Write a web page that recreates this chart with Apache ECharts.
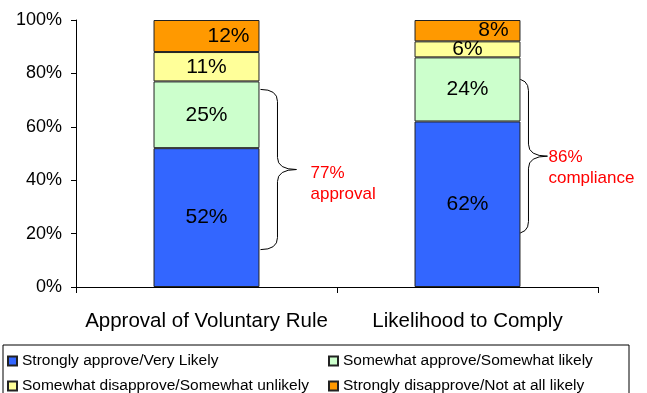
<!DOCTYPE html>
<html>
<head>
<meta charset="utf-8">
<script src="https://cdn.jsdelivr.net/npm/echarts@6/dist/echarts.min.js"></script>
<style>
  html, body { margin: 0; padding: 0; background: #fff; }
  #chart { width: 647px; height: 393px; }
</style>
</head>
<body>
<div id="chart"></div>
<script>
// Survey results: share of responses per answer, stacked to 100%
const categories = ['Approval of Voluntary Rule', 'Likelihood to Comply'];
const seriesNames = [
  'Strongly approve/Very Likely',
  'Somewhat approve/Somewhat likely',
  'Somewhat disapprove/Somewhat unlikely',
  'Strongly disapprove/Not at all likely'
];
const stronglyApprove = [52, 62];
const somewhatApprove = [25, 24];
const somewhatDisapprove = [11, 6];
const stronglyDisapprove = [12, 8];

// Range (in %) covered by the curly bracket next to each bar
const bracketSpans = [[14, 74], [20, 78]];
const bracketWords = ['approval', 'compliance'];

const FONT = '"Liberation Sans", Arial, sans-serif';
const colors = ['#3366FF', '#CCFFCC', '#FFFF99', '#FF9900'];
const values = [stronglyApprove, somewhatApprove, somewhatDisapprove, stronglyDisapprove];

// the top segment's labels sit to the right of centre
const topLabelShift = [22, 26];

const chart = echarts.init(document.getElementById('chart'), null, { renderer: 'canvas' });

const series = seriesNames.map((name, i) => ({
  name,
  type: 'bar',
  stack: 'total',
  barWidth: '40.6%',
  itemStyle: { color: colors[i], borderColor: '#222', borderWidth: 1 },
  label: {
    show: true,
    position: 'inside',
    color: '#000',
    fontSize: 21,
    fontFamily: FONT,
    formatter: p => p.value + '%'
  },
  data: values[i].map((v, j) => i === 3
    ? { value: v, label: { offset: [topLabelShift[j], 0] } }
    : v)
}));

// legend laid out in two columns, two rows
const legendSlots = [[7, 353], [328, 353], [7, 378], [328, 378]];
const legendOrder = [0, 1, 2, 3];
const legends = legendOrder.map((si, k) => ({
  left: legendSlots[k][0],
  top: legendSlots[k][1],
  padding: 0,
  icon: 'rect',
  itemWidth: 9,
  itemHeight: 9,
  itemGap: 5,
  textStyle: { fontSize: 15.5, fontFamily: FONT, color: '#000' },
  selectedMode: false,
  data: [seriesNames[si]]
}));

chart.setOption({
  animation: false,
  grid: { left: 76, right: 49, top: 20, bottom: 106 },
  xAxis: {
    type: 'category',
    data: categories,
    axisLine: { lineStyle: { color: '#000', width: 1 } },
    axisTick: { show: true, length: 6, lineStyle: { color: '#000' } },
    axisLabel: { color: '#000', fontSize: 20.5, fontFamily: FONT, margin: 24, interval: 0 }
  },
  yAxis: {
    type: 'value',
    min: 0,
    max: 100,
    interval: 20,
    axisLine: { show: true, lineStyle: { color: '#000', width: 1 } },
    axisTick: { show: true, length: 5, lineStyle: { color: '#000' } },
    splitLine: { show: false },
    axisLabel: { color: '#000', fontSize: 18, fontFamily: FONT, margin: 14, formatter: '{value}%' }
  },
  legend: legends,
  series
});

// Curly brackets and totals, placed with the chart's own scales
function drawBrackets() {
  const graphics = [{
    type: 'rect',
    shape: { x: 3, y: 345, width: 626, height: 60 },
    style: { fill: 'none', stroke: '#000', lineWidth: 1 },
    silent: true
  }];
  const band = chart.convertToPixel({ xAxisIndex: 0 }, 1) - chart.convertToPixel({ xAxisIndex: 0 }, 0);
  const barHalf = band * 0.406 / 2;
  const startDx = [1, -6];
  const armW = [17, 14];
  const tipW = [36, 33];
  const textDx = [14, 1];
  const textDy = [14, 12];
  const stroke = { fill: 'none', stroke: '#000', lineWidth: 1 };
  const curve = (x1, y1, cx, cy, x2, y2) => ({
    type: 'bezierCurve',
    shape: { x1, y1, x2, y2, cpx1: cx, cpy1: cy },
    style: stroke,
    silent: true
  });
  const line = (x1, y1, x2, y2) => ({
    type: 'line',
    shape: { x1, y1, x2, y2 },
    style: stroke,
    silent: true
  });
  bracketSpans.forEach((span, j) => {
    const cx = chart.convertToPixel({ xAxisIndex: 0 }, j);
    const x0 = cx + barHalf + startDx[j];
    const xv = x0 + armW[j];
    const xt = x0 + tipW[j];
    const yTop = chart.convertToPixel({ yAxisIndex: 0 }, span[1]);
    const yBot = chart.convertToPixel({ yAxisIndex: 0 }, span[0]);
    const yMid = (yTop + yBot) / 2;
    const r = 12;
    graphics.push(
      curve(x0, yTop, xv, yTop, xv, yTop + r),
      line(xv, yTop + r, xv, yMid - r),
      curve(xv, yMid - r, xv, yMid, xt, yMid),
      curve(xt, yMid, xv, yMid, xv, yMid + r),
      line(xv, yMid + r, xv, yBot - r),
      curve(xv, yBot - r, xv, yBot, x0, yBot)
    );
    const total = stronglyApprove[j] + somewhatApprove[j];
    graphics.push({
      type: 'text',
      x: xt + textDx[j],
      y: yMid + textDy[j],
      style: {
        text: total + '%\n' + bracketWords[j],
        fill: '#FF0000',
        fontSize: 17,
        fontFamily: FONT,
        lineHeight: 21,
        align: 'left',
        verticalAlign: 'middle'
      },
      silent: true
    });
  });
  chart.setOption({ graphic: graphics });
}
drawBrackets();
</script>
</body>
</html>
